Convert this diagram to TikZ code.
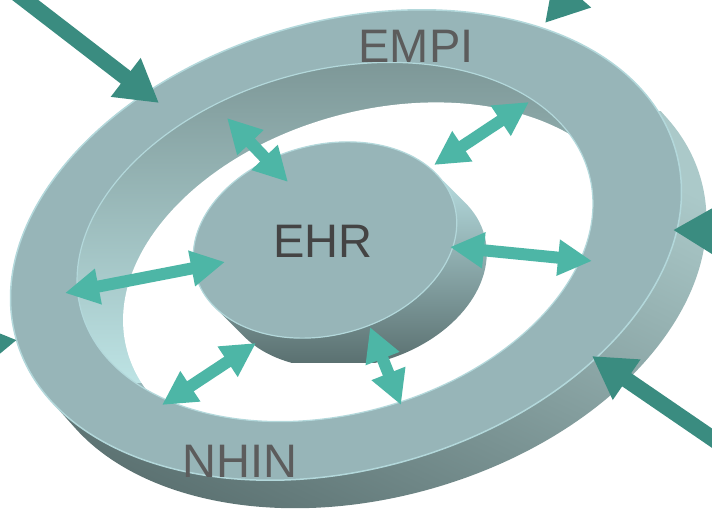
\documentclass[tikz,border=0pt]{standalone}
\usepackage{fontspec}
\setmainfont{Liberation Sans}
\usetikzlibrary{arrows.meta}
\definecolor{face}{HTML}{97B5B8}
\definecolor{faceedge}{HTML}{B3D8DB}
\definecolor{arrowc}{HTML}{4DB6A6}
\definecolor{outc}{HTML}{3A8C80}
\definecolor{textc}{HTML}{5C5C5C}
\definecolor{ehrc}{HTML}{444444}
\definecolor{sideA}{HTML}{ABC9C9}
\definecolor{sideB}{HTML}{5B7171}
\definecolor{wallA}{HTML}{7D9797}
\definecolor{wallB}{HTML}{5C7474}
\definecolor{wallC}{HTML}{BDE3E4}
\tikzset{
  inarrow/.style={line width=12pt, draw=arrowc, {Triangle[length=34pt,width=34pt]}-{Triangle[length=34pt,width=34pt]}},
  outarrow/.style={line width=16pt, draw=outc, -{Triangle[length=42pt,width=46pt]}},
  lbl/.style={font=\fontsize{47}{50}\selectfont, inner sep=0pt}
}
\begin{document}
\begin{tikzpicture}[x=1pt,y=1pt]
\useasboundingbox (0,0) rectangle (712,512);
\clip (0,0) rectangle (712,512);
% outer ring side
\begin{scope}
\clip[rotate around={16:(346,267)}] foreach \k in {0,...,24} { ({346+\k/24*16.31},{267-\k/24*33.81}) ellipse [x radius=343, y radius=224] };
\shade[shading=axis, top color=sideA, bottom color=sideB, shading angle=-25] (0,0) rectangle (712,400);
\end{scope}
% ring top face
\fill[face, rotate around={16:(346,267)}] (346,267) ellipse [x radius=343, y radius=224];
\draw[faceedge, line width=1.5pt, rotate around={16:(346,267)}] (346,267) ellipse [x radius=343, y radius=224];
% hole with inner wall
\begin{scope}
\clip[rotate around={15:(335,270)}] (335,270) ellipse [x radius=263, y radius=172];
\shade[top color=wallA, middle color=wallB, bottom color=wallC] (60,130) rectangle (620,452);
\fill[white, rotate around={15:(381,230)}] (381,230) ellipse [x radius=263, y radius=172];
\end{scope}
\draw[faceedge, line width=1.2pt, rotate around={15:(335,270)}] (335,270) ellipse [x radius=263, y radius=172];
% disk side
\begin{scope}
\clip[rotate around={15:(325,272)}] foreach \k in {0,...,24} { ({325+\k/24*21.21},{272-\k/24*36.74}) ellipse [x radius=134, y radius=95] };
\shade[top color=faceedge, bottom color=sideB] (180,150) rectangle (500,330);
\end{scope}
% disk top
\fill[face, rotate around={15:(325,272)}] (325,272) ellipse [x radius=134, y radius=95];
\draw[faceedge, line width=1.2pt, rotate around={15:(325,272)}] (325,272) ellipse [x radius=134, y radius=95];
% inner arrows
\coordinate (a1) at (227,394); \coordinate (a2) at (288,330);
\coordinate (b1) at (529,410); \coordinate (b2) at (434,347);
\coordinate (c1) at (450,265); \coordinate (c2) at (592,251);
\coordinate (d1) at (65,219);  \coordinate (d2) at (225,250);
\coordinate (e1) at (162,107); \coordinate (e2) at (256,169);
\coordinate (f1) at (370,185); \coordinate (f2) at (401,107);
\draw[inarrow] (a1) -- (a2);
\draw[inarrow] (b1) -- (b2);
\draw[inarrow] (c1) -- (c2);
\draw[inarrow] (d1) -- (d2);
\draw[inarrow] (e1) -- (e2);
\draw[inarrow] (f1) -- (f2);
% outer arrows
\coordinate (o1s) at (-15,543); \coordinate (o1t) at (159,409);
\coordinate (o2s) at (600,552); \coordinate (o2t) at (545,489);
\coordinate (o3s) at (760,280); \coordinate (o3t) at (673,282);
\coordinate (o4s) at (757,43);  \coordinate (o4t) at (592,156);
\coordinate (o5s) at (-60,160); \coordinate (o5t) at (17,172);
\draw[outarrow] (o1s) -- (o1t);
\draw[outarrow] (o2s) -- (o2t);
\draw[outarrow] (o3s) -- (o3t);
\draw[outarrow] (o4s) -- (o4t);
\draw[outarrow] (o5s) -- (o5t);
% labels
\node[lbl, text=textc] (empi) at (416,466) {EMPI};
\node[lbl, text=textc] (nhin) at (240,51) {NHIN};
\node[lbl, text=ehrc] (ehr) at (323,271) {EHR};
\end{tikzpicture}
\end{document}
